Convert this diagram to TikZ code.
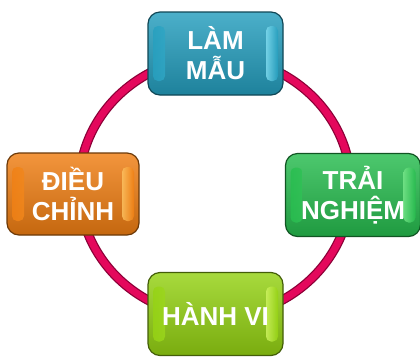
\documentclass[tikz,border=0pt]{standalone}
\usepackage{fontspec}
\setmainfont{Liberation Sans}
\definecolor{bluebase}{RGB}{36,158,190}
\definecolor{bluelight}{RGB}{125,218,238}
\definecolor{greenbase}{RGB}{38,188,78}
\definecolor{greenlight}{RGB}{115,228,135}
\definecolor{orangebase}{RGB}{240,126,18}
\definecolor{orangelight}{RGB}{252,192,95}
\definecolor{limebase}{RGB}{148,210,18}
\definecolor{limelight}{RGB}{205,242,95}
\definecolor{ringc}{RGB}{228,8,92}
\definecolor{ringdark}{RGB}{140,0,55}
\tikzset{
  glossbox/.style 2 args={
    rounded corners=12pt, minimum width=135pt, minimum height=83pt,
    inner sep=0pt, draw=#1!45!black, line width=1.2pt,
    top color=#1!82!white, middle color=#1, bottom color=#1!82!black,
    text=white, align=center,
    font=\bfseries\fontsize{26}{30}\selectfont,
    path picture={
      \shade[left color=#1, right color=#2, rounded corners=5pt, opacity=.85]
        ([xshift=5pt,yshift=14pt]path picture bounding box.south west) rectangle
        ([xshift=17pt,yshift=-14pt]path picture bounding box.north west);
      \shade[left color=#2, right color=#1, rounded corners=5pt, opacity=.85]
        ([xshift=-17pt,yshift=14pt]path picture bounding box.south east) rectangle
        ([xshift=-5pt,yshift=-14pt]path picture bounding box.north east);
    }
  },
  ringline/.style={line width=#1}
}
\begin{document}
\begin{tikzpicture}[x=1pt,y=-1pt]
\useasboundingbox[fill=white] (0,0) rectangle (420,357);
\coordinate (ringcenter) at (215,187);
\draw[ringdark, ringline=9.5pt] (ringcenter) ellipse [x radius=136, y radius=130];
\draw[ringc, ringline=7pt] (ringcenter) ellipse [x radius=136, y radius=130];
\node[glossbox={bluebase}{bluelight}] (lam) at (215.5,53.5) {LÀM\\MẪU};
\node[glossbox={greenbase}{greenlight}] (trai) at (353,195) {TRẢI\\NGHIỆM};
\node[glossbox={orangebase}{orangelight}, minimum width=132pt, minimum height=82pt] (dieu) at (73,194) {ĐIỀU\\CHỈNH};
\node[glossbox={limebase}{limelight}] (hanh) at (215.5,314) {HÀNH VI};
\end{tikzpicture}
\end{document}
